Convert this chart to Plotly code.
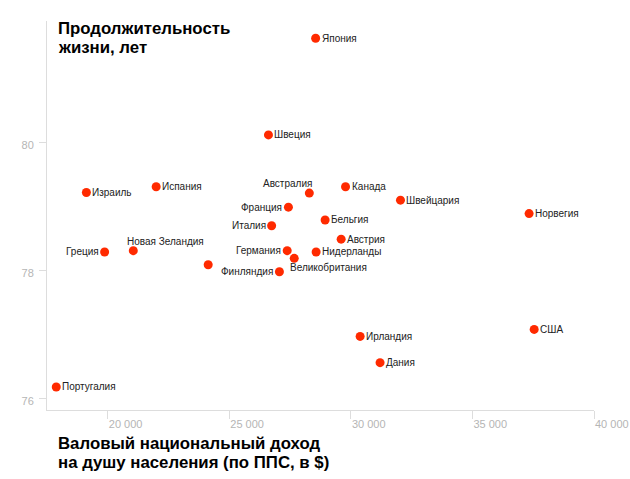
import plotly.graph_objects as go

countries = ["Япония", "Швеция", "Израиль", "Испания", "Австралия", "Канада",
             "Швейцария", "Франция", "Норвегия", "Бельгия", "Италия", "Австрия",
             "Греция", "Новая Зеландия", "Германия", "Нидерланды", "",
             "Великобритания", "Финляндия", "США", "Ирландия", "Дания", "Португалия"]
gni = [28550, 26610, 19120, 21990, 28290, 29780,
       32040, 27430, 37330, 28940, 26740, 29600,
       19870, 21050, 27380, 28570, 24130,
       27670, 27060, 37540, 30380, 31200, 17880]
life = [81.63, 80.12, 79.22, 79.31, 79.21, 79.31,
        79.10, 78.99, 78.89, 78.79, 78.70, 78.49,
        78.29, 78.31, 78.31, 78.29, 78.09,
        78.19, 77.98, 77.08, 76.97, 76.56, 76.18]
x_ticks = [20000, 25000, 30000, 35000, 40000]
x_tick_labels = ["20 000", "25 000", "30 000", "35 000", "40 000"]
y_ticks = [76, 78, 80]
y_tick_labels = ["76", "78", "80"]

# label placement relative to dot
label_side = ["r", "r", "r", "r", "tl", "r",
              "r", "l", "r", "r", "l", "r",
              "l", "tr", "l", "r", "r",
              "b", "l", "r", "r", "r", "r"]

place = {
    "r": dict(xanchor="left", yanchor="middle", xshift=5, yshift=0),
    "l": dict(xanchor="right", yanchor="middle", xshift=-5, yshift=0),
    "tl": dict(xanchor="right", yanchor="bottom", xshift=4, yshift=3),
    "tr": dict(xanchor="left", yanchor="bottom", xshift=-7, yshift=3),
    "b": dict(xanchor="left", yanchor="top", xshift=-5, yshift=-3),
}

FONT = "Liberation Sans, Arial, sans-serif"
RED = "#ff2a00"
GRID = "#dddddd"
TICKC = "#b5b5b5"

fig = go.Figure()
fig.add_trace(go.Scatter(
    x=gni, y=life, mode="markers",
    marker=dict(color=RED, size=9, line=dict(width=0)),
    hoverinfo="skip", showlegend=False,
))

annotations = []
for name, xv, yv, side in zip(countries, gni, life, label_side):
    if not name:
        continue
    p = place[side]
    annotations.append(dict(
        x=xv, y=yv, xref="x", yref="y", text=name, showarrow=False,
        font=dict(family=FONT, size=10, color="#222222"),
        borderpad=0, **p,
    ))

title_font = dict(family=FONT, size=16.8, color="#000000")
for txt, py in [("<b>Продолжительность</b>", 0.982), ("<b>жизни, лет</b>", 0.933)]:
    annotations.append(dict(x=0.018, y=py, xref="paper", yref="paper", text=txt,
                            showarrow=False, xanchor="left", yanchor="middle",
                            font=title_font, borderpad=0))
for txt, py in [("<b>Валовый национальный доход</b>", -0.085),
                ("<b>на душу населения (по ППС, в $)</b>", -0.134)]:
    annotations.append(dict(x=0.019, y=py, xref="paper", yref="paper", text=txt,
                            showarrow=False, xanchor="left", yanchor="middle",
                            font=title_font, borderpad=0))

fig.update_layout(
    width=630, height=479,
    margin=dict(l=47, r=36, t=21, b=69, pad=0),
    paper_bgcolor="white", plot_bgcolor="white",
    font=dict(family=FONT),
    annotations=annotations,
    xaxis=dict(
        range=[17500, 40000], tickvals=x_ticks, ticktext=x_tick_labels,
        showgrid=False, zeroline=False, showline=True, linecolor=GRID, linewidth=1,
        ticks="outside", ticklen=8, tickcolor=GRID, tickwidth=1,
        ticklabelposition="outside right", ticklabelstandoff=4,
        tickfont=dict(family=FONT, size=11, color=TICKC),
        automargin=False,
    ),
    yaxis=dict(
        range=[75.82, 81.9], tickvals=y_ticks, ticktext=y_tick_labels,
        showgrid=False, zeroline=False, showline=True, linecolor=GRID, linewidth=1,
        ticks="outside", ticklen=7, tickcolor=GRID, tickwidth=1,
        ticklabelstandoff=3, ticklabelshift=3,
        tickfont=dict(family=FONT, size=11, color=TICKC),
        automargin=False,
    ),
)

fig.write_html("out.html")
